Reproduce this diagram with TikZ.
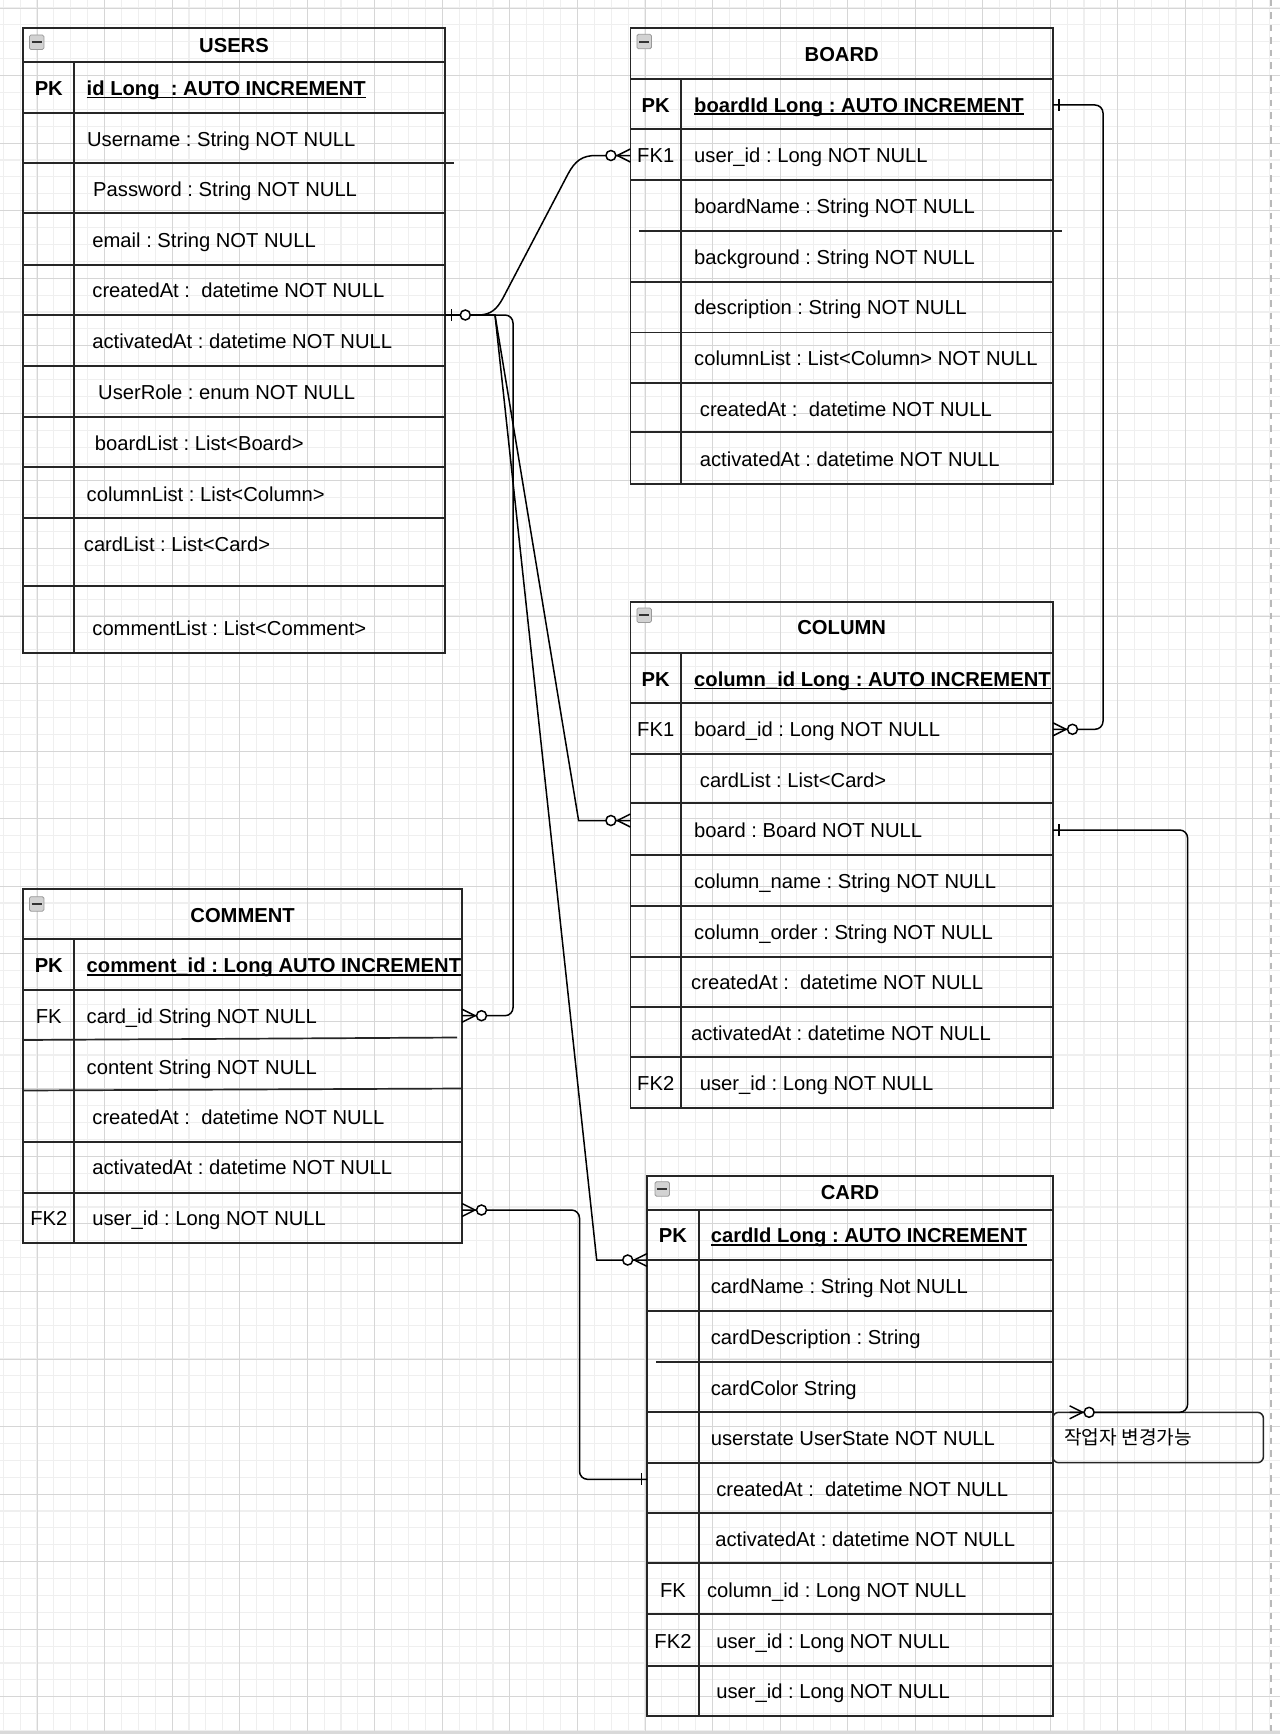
\documentclass[tikz,border=0pt]{standalone}
\usepackage{fontspec}
\setmainfont{Liberation Sans}
\newfontfamily\krfont{Noto Sans CJK KR}
\frenchspacing
\definecolor{tline}{HTML}{262626}
\definecolor{gmin}{HTML}{EFEFEF}
\definecolor{gmaj}{HTML}{D6D6D6}
\newcommand\fsz{\fontsize{20.2}{24}\selectfont\frenchspacing}
\newsavebox\ulbox
\newcommand\myul[1]{\sbox\ulbox{#1}\rlap{\rule[-2.8pt]{\wd\ulbox}{1.5pt}}\usebox\ulbox}
\tikzset{
  fld/.style={anchor=west, inner sep=0pt, text height=14.4pt, text depth=0pt, font=\fsz},
  keyl/.style={anchor=center, inner sep=0pt, text height=14.4pt, text depth=0pt, font=\fsz},
  keyb/.style={keyl, font=\fsz\bfseries},
  pkf/.style={fld, font=\fsz\bfseries},
  ttl/.style={anchor=center, inner sep=0pt, text height=14.4pt, text depth=0pt, font=\fsz\bfseries},
  tbl/.style={draw=tline, line width=1.7pt},
  conn/.style={draw=black, line width=1.5pt, rounded corners=8pt},
  mk/.style={draw=black, line width=1.5pt},
  gminor/.style={draw=gmin, line width=1.1pt},
  gmajor/.style={draw=gmaj, line width=0.9pt},
  pics/zmany/.style={code={
    \draw[mk] (0,-6.5) -- (13,0) -- (0,6.5);
    \draw[mk,fill=white] (19.5,0) circle (5);
  }},
  pics/cbox/.style={code={
    \draw[draw=gray!80, fill=gray!35, line width=0.8pt, rounded corners=1.5pt] (0,0) rectangle (14.5,14.5);
    \draw[draw=black!80, line width=2pt] (2.2,7.25) -- (12.3,7.25);
  }},
}
\begin{document}
\begin{tikzpicture}[x=1pt,y=-1pt]
\useasboundingbox (0,0) rectangle (1280,1734);
\fill[white] (0,0) rectangle (1280,1734);
% grid
\foreach \k in {-2,...,73} \draw[gminor] ({37+16.8875*\k},0) -- ({37+16.8875*\k},1734);
\foreach \k in {0,...,102} \draw[gminor] (0,{8+16.8875*\k}) -- (1280,{8+16.8875*\k});
\foreach \k in {0,...,18} \draw[gmajor] ({37+67.55*\k},0) -- ({37+67.55*\k},1734);
\foreach \k in {0,...,25} \draw[gmajor] (0,{8+67.55*\k}) -- (1280,{8+67.55*\k});
\draw[draw=gray!55, line width=2pt, dash pattern=on 6.5pt off 6pt] (1271,0) -- (1271,1734);
\draw[draw=gray!30, line width=3pt] (0,1732) -- (1280,1732);

% ===== USERS =====
\draw[tbl] (23.3,28.3) rectangle (444.9,652.7);
\foreach \yy in {62.3,112.7,212.7,265,315.3,365.7,416.7,467.3,518.3,585.7} \draw[tbl] (23.3,\yy) -- (444.9,\yy);
\draw[tbl] (23.3,163.3) -- (453.9,163.3);
\draw[tbl] (74.3,62.3) -- (74.3,652.7);
\pic at (29.4,35) {cbox};
\node[ttl] (uT) at (234,45) {USERS};
\node[keyb] (uK1) at (48.8,88.3) {PK};
\node[pkf] (uF1) at (86.5,88.3) {\myul{id Long\ \ : AUTO INCREMENT}};
\node[fld] (uF2) at (86.9,139.3) {Username : String NOT NULL};
\node[fld] (uF3) at (93,189.3) {Password : String NOT NULL};
\node[fld] (uF4) at (92.2,240) {email : String NOT NULL};
\node[fld] (uF5) at (92.2,290.7) {createdAt :\ \ datetime NOT NULL};
\node[fld] (uF6) at (92.2,341.7) {activatedAt : datetime NOT NULL};
\node[fld] (uF7) at (98,392.3) {UserRole : enum NOT NULL};
\node[fld] (uF8) at (94.7,443.3) {boardList : List<Board>};
\node[fld] (uF9) at (86.5,494) {columnList : List<Column>};
\node[fld] (uF10) at (83.7,544) {cardList : List<Card>};
\node[fld] (uF11) at (92.2,628.3) {commentList : List<Comment>};

% ===== BOARD =====
\draw[tbl] (630.4,28.3) rectangle (1053,484);
\foreach \yy in {79,129.3,180.3,281.7,332.5,382.7,432.3} \draw[tbl] (630.4,\yy) -- (1053,\yy);
\draw[tbl] (639,230.7) -- (1061.8,230.7);
\draw[tbl] (681.1,79) -- (681.1,484);
\pic at (636.9,34.3) {cbox};
\node[ttl] (bT) at (841.7,54) {BOARD};
\node[keyb] (bK1) at (655.7,105) {PK};
\node[pkf] (bF1) at (694,105) {\myul{boardId Long : AUTO INCREMENT}};
\node[keyl] (bK2) at (655.7,155.7) {FK1};
\node[fld] (bF2) at (694,155.7) {user\_id : Long NOT NULL};
\node[fld] (bF3) at (694,206.7) {boardName : String NOT NULL};
\node[fld] (bF4) at (694,257.3) {background : String NOT NULL};
\node[fld] (bF5) at (694,307.3) {description : String NOT NULL};
\node[fld] (bF6) at (694,358.3) {columnList : List<Column> NOT NULL};
\node[fld] (bF7) at (699.7,409) {createdAt :\ \ datetime NOT NULL};
\node[fld] (bF8) at (699.7,459.3) {activatedAt : datetime NOT NULL};

% ===== COLUMN =====
\draw[tbl] (630.4,602.3) rectangle (1053,1108.3);
\foreach \yy in {652.7,703.3,754,803.3,855,905.7,956.7,1007.3,1056.7} \draw[tbl] (630.4,\yy) -- (1053,\yy);
\draw[tbl] (681.1,652.7) -- (681.1,1108.3);
\pic at (636.9,608) {cbox};
\node[ttl] (cT) at (841.7,627.3) {COLUMN};
\node[keyb] (cK1) at (655.7,679) {PK};
\node[pkf] (cF1) at (694,679) {\myul{column\_id Long : AUTO INCREMENT}};
\node[keyl] (cK2) at (655.7,729.3) {FK1};
\node[fld] (cF2) at (694,729.3) {board\_id : Long NOT NULL};
\node[fld] (cF3) at (699.7,780.7) {cardList : List<Card>};
\node[fld] (cF4) at (694,830.7) {board : Board NOT NULL};
\node[fld] (cF5) at (694,881) {column\_name : String NOT NULL};
\node[fld] (cF6) at (694,932.3) {column\_order : String NOT NULL};
\node[fld] (cF7) at (691,982.7) {createdAt :\ \ datetime NOT NULL};
\node[fld] (cF8) at (691,1033.3) {activatedAt : datetime NOT NULL};
\node[keyl] (cK3) at (655.7,1083.3) {FK2};
\node[fld] (cF9) at (699.7,1083.3) {user\_id : Long NOT NULL};

% ===== COMMENT =====
\draw[tbl] (23.3,889) rectangle (462,1243.3);
\foreach \yy in {939.3,990,1142.3,1192.7} \draw[tbl] (23.3,\yy) -- (462,\yy);
\draw[tbl] (23.3,1040) -- (457,1037.5);
\draw[tbl] (23.3,1090.5) -- (462,1088.5);
\draw[tbl] (74.3,939.3) -- (74.3,1243.3);
\pic at (29.4,896.7) {cbox};
\node[ttl] (mT) at (242.6,915) {COMMENT};
\node[keyb] (mK1) at (48.8,965.7) {PK};
\node[pkf] (mF1) at (86.5,965.7) {\myul{comment\_id : Long AUTO INCREMENT}};
\node[keyl] (mK2) at (48.8,1016.7) {FK};
\node[fld] (mF2) at (86.5,1016.7) {card\_id String NOT NULL};
\node[fld] (mF3) at (86.5,1067.3) {content String NOT NULL};
\node[fld] (mF4) at (92.2,1117.7) {createdAt :\ \ datetime NOT NULL};
\node[fld] (mF5) at (92.2,1167.7) {activatedAt : datetime NOT NULL};
\node[keyl] (mK3) at (48.8,1218.3) {FK2};
\node[fld] (mF6) at (92.2,1218.3) {user\_id : Long NOT NULL};

% ===== CARD =====
\draw[tbl] (647.2,1175.7) rectangle (1053,1716);
\foreach \yy in {1210,1260,1311,1412.3,1462.7,1513.3,1562.7,1614.3,1665.7} \draw[tbl] (647.2,\yy) -- (1053,\yy);
\draw[tbl] (656.4,1361.7) -- (1053,1361.7);
\draw[tbl] (698.7,1210) -- (698.7,1716);
\pic at (655,1181.7) {cbox};
\node[ttl] (dT) at (850,1192.3) {CARD};
\node[keyb] (dK1) at (673,1235.7) {PK};
\node[pkf] (dF1) at (710.6,1235.7) {\myul{cardId Long : AUTO INCREMENT}};
\node[fld] (dF2) at (710.6,1286.7) {cardName : String Not NULL};
\node[fld] (dF3) at (710.6,1337.3) {cardDescription : String};
\node[fld] (dF4) at (710.6,1388.3) {cardColor String};
\node[fld] (dF5) at (710.6,1438.3) {userstate UserState NOT NULL};
\node[fld] (dF6) at (716.1,1489) {createdAt :\ \ datetime NOT NULL};
\node[fld] (dF7) at (715.2,1539.3) {activatedAt : datetime NOT NULL};
\node[keyl] (dK2) at (673,1590) {FK};
\node[fld] (dF8) at (706.9,1590) {column\_id : Long NOT NULL};
\node[keyl] (dK3) at (673,1641) {FK2};
\node[fld] (dF9) at (716.1,1641) {user\_id : Long NOT NULL};
\node[fld] (dF10) at (716.1,1691.7) {user\_id : Long NOT NULL};

% ===== note =====
\draw[draw=tline, line width=1.5pt, rounded corners=6pt] (1052.7,1412.3) rectangle (1263.4,1462.7);
\node[anchor=west, inner sep=0pt, font=\krfont\fontsize{19.2}{22}\selectfont] (note) at (1064,1437.5) {작업자 변경가능};

% ===== connection points =====
\coordinate (uA) at (444.9,315);
\coordinate (bFK) at (630.4,155.5);
\coordinate (cBd) at (630.4,820.5);
\coordinate (dPK) at (647.2,1260);
\coordinate (mFK) at (462,1015.7);
\coordinate (mFK2) at (462,1210);
\coordinate (dCr) at (647.2,1479.3);
\coordinate (bPK) at (1053,105);
\coordinate (cFK) at (1053,729.3);
\coordinate (cBr) at (1053,830);
\coordinate (dUs) at (1069.6,1412.3);

% ===== connectors =====
\draw[mk] (uA) -- (478,315) .. controls (491,315) and (497,309) .. (503,298) -- (568,174) .. controls (575,161) and (582,155.5) .. (596,155.5) -- (bFK);
\draw[mk] (uA) -- (495,315) -- (578.6,820.5) -- (cBd);
\draw[mk] (uA) -- (495,315) -- (596.7,1260) -- (dPK);
\draw[conn] (uA) -- (513,315) -- (513,1015.7) -- (mFK);
\draw[conn] (mFK2) -- (579.5,1210) -- (579.5,1479.3) -- (dCr);
\draw[conn] (bPK) -- (1103,105) -- (1103,729.3) -- (cFK);
\draw[conn] (cBr) -- (1187.6,830) -- (1187.6,1412.3) -- (dUs);

% ===== markers =====
\draw[mk] (451.7,309) -- (451.7,321);
\draw[mk,fill=white] (465.3,315) circle (5);
\pic[xscale=-1] at (bFK) {zmany};
\pic[xscale=-1] at (cBd) {zmany};
\pic[xscale=-1] at (dPK) {zmany};
\pic at (mFK) {zmany};
\pic at (mFK2) {zmany};
\pic at (cFK) {zmany};
\pic at (dUs) {zmany};
\draw[mk] (641.3,1473.3) -- (641.3,1485.3);
\draw[mk] (1058.8,99) -- (1058.8,111);
\draw[mk] (1058.8,824) -- (1058.8,836);
\end{tikzpicture}
\end{document}
